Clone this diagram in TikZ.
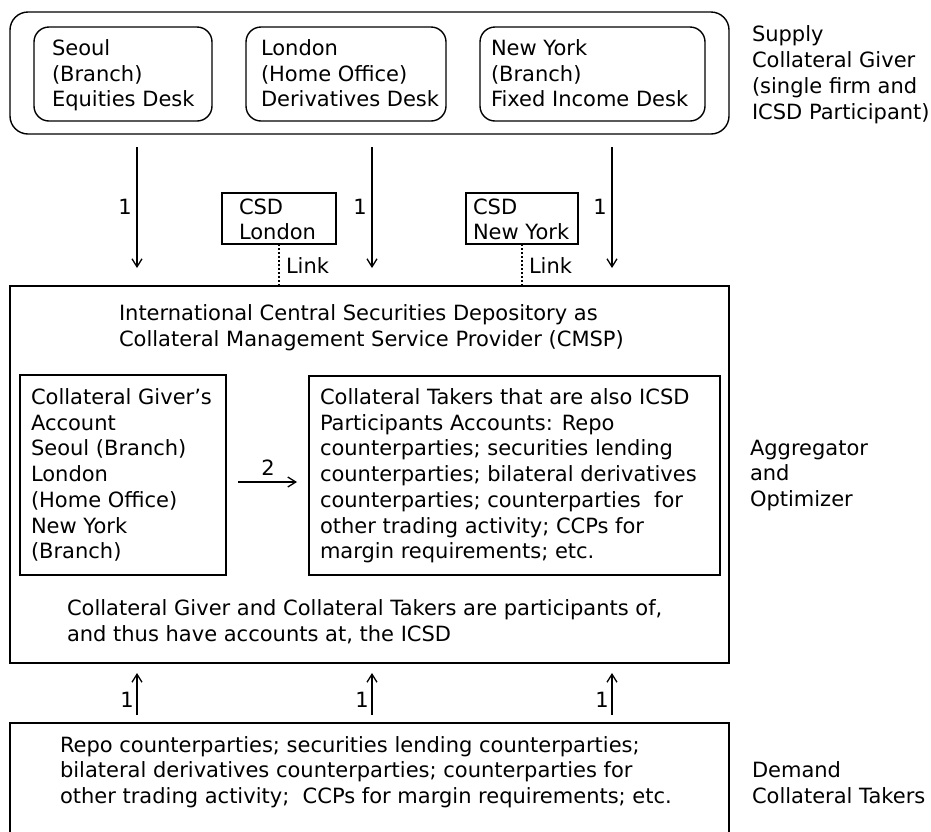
\documentclass[tikz,border=0pt]{standalone}
\usepackage{fontspec}
\setmainfont{DejaVu Sans}
\usetikzlibrary{arrows.meta}
\begin{document}
\begin{tikzpicture}[x=1pt,y=-1pt,
  every node/.style={font=\fontsize{21}{25.7}\selectfont},
  box/.style={draw, line width=1.4pt, inner sep=0pt, outer sep=0pt, anchor=north west},
  rbox/.style={box, rounded corners=18pt},
  txt/.style={anchor=base west, align=left, inner sep=0pt, outer sep=0pt},
  lbl/.style={anchor=base, inner sep=0pt, outer sep=0pt},
  arr/.style={line width=1.3pt, -{Straight Barb[length=8pt,width=10pt,line width=1.3pt]}},
  link/.style={line width=1.3pt, dash pattern=on 2.2pt off 1.8pt}
]
\clip (0,0) rectangle (931,831);
\useasboundingbox (0,0) rectangle (931,831);

% ---------- supply ----------
\node[rbox, minimum width=719pt, minimum height=122pt] (supply) at (10,12) {};
\node[rbox, rounded corners=15pt, minimum width=178pt, minimum height=94pt] (seoul) at (34,27) {};
\node[rbox, rounded corners=15pt, minimum width=200pt, minimum height=94pt] (london) at (246,27) {};
\node[rbox, rounded corners=15pt, minimum width=225pt, minimum height=94pt] (newyork) at (480,27) {};
% base anchor = baseline of the last line
\node[txt] (tseoul) at (52,106.9) {Seoul\\(Branch)\\Equities Desk};
\node[txt] (tlondon) at (261,106.9) {London\\(Home Office)\\Derivatives Desk};
\node[txt] (tnewyork) at (491,106.9) {New York\\(Branch)\\Fixed Income Desk};
\node[txt] (tsupply) at (752,119) {Supply\\Collateral Giver\\(single firm and\\ICSD Participant)};

% ---------- CSDs ----------
\node[box, minimum width=114pt, minimum height=51pt] (csdl) at (222,193) {};
\node[box, minimum width=112pt, minimum height=51pt] (csdn) at (466,193) {};
\node[txt] (tcsdl) at (239,239.7) {CSD\\London};
\node[txt] (tcsdn) at (473,239.7) {CSD\\New York};

% ---------- ICSD ----------
\node[box, minimum width=719pt, minimum height=377pt] (icsd) at (10,286) {};
\node[box, minimum width=206pt, minimum height=200pt] (giver) at (20,375) {};
\node[box, minimum width=411pt, minimum height=199pt] (takers) at (309,376) {};
\node[txt] (ttitle) at (119,346.2) {International Central Securities Depository as\\Collateral Management Service Provider (CMSP)};
\node[txt] (tgiver) at (31,558.7) {Collateral Giver’s\\Account\\Seoul (Branch)\\London\\(Home Office)\\New York\\(Branch)};
\node[txt] (ttakers) at (320,558.7) {Collateral Takers that are also ICSD\\Participants Accounts: Repo\\counterparties; securities lending\\counterparties; bilateral derivatives\\counterparties; counterparties\ \ for\\other trading activity; CCPs for\\margin requirements; etc.};
\node[txt] (tpart) at (67,641.2) {Collateral Giver and Collateral Takers are participants of,\\and thus have accounts at, the ICSD};
\node[txt] (tagg) at (750,506.4) {Aggregator\\and\\Optimizer};

% ---------- demand ----------
\node[box, minimum width=719pt, minimum height=140pt] (demand) at (10,723) {};
\node[txt] (tdemand) at (60,803.4) {Repo counterparties; securities lending counterparties;\\bilateral derivatives counterparties; counterparties for\\other trading activity;\ \ CCPs for margin requirements; etc.};
\node[txt] (tdem) at (752,803.4) {Demand\\Collateral Takers};

% ---------- links ----------
\draw[link] (csdl.south) -- (csdl.south |- icsd.north);
\draw[link] (csdn.south) -- (csdn.south |- icsd.north);
\node[txt] (linkl) at (286,273) {Link};
\node[txt] (linkn) at (529,273) {Link};

% ---------- arrows 1 (down) ----------
\coordinate (d1s) at (137,147); \coordinate (d1e) at (137,268);
\coordinate (d2s) at (372,147); \coordinate (d2e) at (372,268);
\coordinate (d3s) at (612,147); \coordinate (d3e) at (612,268);
\draw[arr] (d1s) -- (d1e);
\draw[arr] (d2s) -- (d2e);
\draw[arr] (d3s) -- (d3e);
\node[lbl] (n1a) at (125,214.5) {1};
\node[lbl] (n1b) at (360,214.5) {1};
\node[lbl] (n1c) at (600,214.5) {1};

% ---------- arrow 2 ----------
\coordinate (t2s) at (238,482); \coordinate (t2e) at (297,482);
\draw[arr] (t2s) -- (t2e);
\node[lbl] (n2) at (268,475) {2};

% ---------- arrows 1 (up) ----------
\coordinate (u1s) at (137,715); \coordinate (u1e) at (137,673);
\coordinate (u2s) at (372,715); \coordinate (u2e) at (372,673);
\coordinate (u3s) at (612,715); \coordinate (u3e) at (612,673);
\draw[arr] (u1s) -- (u1e);
\draw[arr] (u2s) -- (u2e);
\draw[arr] (u3s) -- (u3e);
\node[lbl] (m1a) at (127,707) {1};
\node[lbl] (m1b) at (362,707) {1};
\node[lbl] (m1c) at (602,707) {1};
\end{tikzpicture}
\end{document}
